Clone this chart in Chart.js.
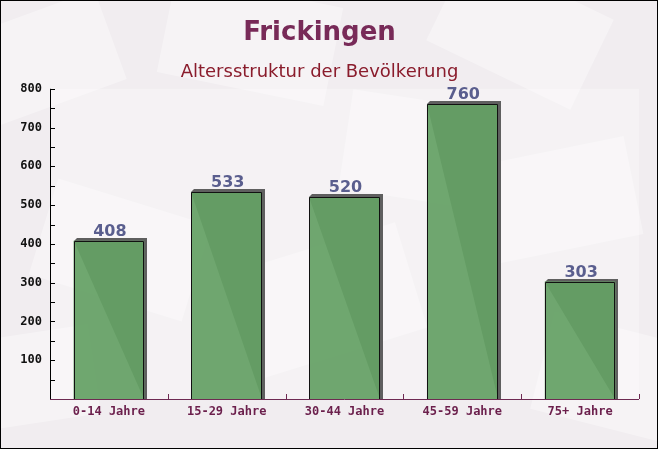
<!DOCTYPE html>
<html>
<head>
<meta charset="utf-8">
<script src="https://cdn.jsdelivr.net/npm/chart.js@4.4.0/dist/chart.umd.min.js"></script>
<style>
  html, body { margin: 0; padding: 0; background: #f2eef1; }
  #wrap { width: 658px; height: 449px; position: relative; }
</style>
</head>
<body>
<div id="wrap"><canvas id="chart" width="658" height="449"></canvas></div>
<script>
// data
const categories = ["0-14 Jahre", "15-29 Jahre", "30-44 Jahre", "45-59 Jahre", "75+ Jahre"];
const population = [408, 533, 520, 760, 303];
const yTicks = [100, 200, 300, 400, 500, 600, 700, 800];

const monoFont = '"DejaVu Sans Mono", "Liberation Mono", monospace';
const sansFont = '"DejaVu Sans", Verdana, sans-serif';

// faint envelope shapes in the background
const envelopes = [
  [40, 60, 150, 95, -0.35], [250, 40, 170, 100, 0.2], [520, 30, 160, 100, 0.45],
  [120, 250, 160, 100, 0.3], [330, 300, 170, 110, -0.3], [560, 200, 150, 100, -0.2],
  [620, 380, 160, 100, 0.25], [20, 380, 150, 90, -0.15], [420, 150, 150, 100, 0.15]
];

const backgroundPlugin = {
  id: "bg",
  beforeDraw(chart) {
    const ctx = chart.ctx;
    ctx.save();
    ctx.fillStyle = "#f1edf0";
    ctx.fillRect(0, 0, chart.width, chart.height);
    envelopes.forEach(function (e) {
      ctx.save();
      ctx.translate(e[0], e[1]);
      ctx.rotate(e[4]);
      ctx.fillStyle = "rgba(255,255,255,0.35)";
      ctx.fillRect(-e[2] / 2, -e[3] / 2, e[2], e[3]);
      ctx.restore();
    });
    const a = chart.chartArea;
    ctx.fillStyle = "rgba(255,255,255,0.3)";
    ctx.fillRect(a.left, a.top, a.right - a.left, a.bottom - a.top);
    ctx.restore();
  },
  afterDraw(chart) {
    const ctx = chart.ctx;
    ctx.save();
    ctx.strokeStyle = "#000";
    ctx.lineWidth = 1;
    ctx.strokeRect(0.5, 0.5, chart.width - 1, chart.height - 1);
    ctx.restore();
  }
};

// 3d shadow behind bars, outline + value labels
const barDecor = {
  id: "barDecor",
  beforeDatasetsDraw(chart) {
    const ctx = chart.ctx;
    const d = 3;
    ctx.save();
    ctx.fillStyle = "#5f5f5f";
    chart.getDatasetMeta(0).data.forEach(function (bar) {
      const l = Math.round(bar.x - bar.width / 2), r = Math.round(bar.x + bar.width / 2);
      const t = Math.round(bar.y);
      ctx.beginPath();
      ctx.moveTo(l, t);
      ctx.lineTo(l + d, t - d);
      ctx.lineTo(r + d, t - d);
      ctx.lineTo(r + d, bar.base);
      ctx.lineTo(r, bar.base);
      ctx.closePath();
      ctx.fill();
    });
    ctx.restore();
  },
  afterDatasetsDraw(chart) {
    const ctx = chart.ctx;
    ctx.save();
    ctx.strokeStyle = "#111";
    ctx.lineWidth = 1;
    chart.getDatasetMeta(0).data.forEach(function (bar) {
      const l = Math.round(bar.x - bar.width / 2) + 0.5, r = Math.round(bar.x + bar.width / 2) - 0.5;
      const t = Math.round(bar.y) + 0.5;
      ctx.beginPath();
      ctx.moveTo(l, bar.base);
      ctx.lineTo(l, t);
      ctx.lineTo(r, t);
      ctx.lineTo(r, bar.base);
      ctx.stroke();
    });
    ctx.font = "bold 16px " + sansFont;
    ctx.fillStyle = "#5a5e8e";
    ctx.textAlign = "center";
    ctx.textBaseline = "alphabetic";
    chart.getDatasetMeta(0).data.forEach(function (bar, i) {
      ctx.fillText(String(population[i]), bar.x + 1, bar.y - 5);
    });
    ctx.restore();
  },
  afterDraw(chart) {
    // inward tick marks
    const ctx = chart.ctx;
    const a = chart.chartArea;
    const y = chart.scales.y;
    ctx.save();
    ctx.lineWidth = 1;
    ctx.strokeStyle = "#000";
    for (let v = 50; v <= 800; v += 50) {
      const py = Math.round(y.getPixelForValue(v)) + 0.5;
      ctx.beginPath();
      ctx.moveTo(a.left, py);
      ctx.lineTo(a.left + 5, py);
      ctx.stroke();
    }
    ctx.beginPath();
    ctx.moveTo(a.left + 0.5, a.top);
    ctx.lineTo(a.left + 0.5, a.bottom);
    ctx.stroke();
    ctx.strokeStyle = "#6e2a52";
    const step = (a.right - a.left) / categories.length;
    for (let i = 1; i <= categories.length; i++) {
      const px = Math.round(a.left + step * i) + 0.5;
      ctx.beginPath();
      ctx.moveTo(px, a.bottom);
      ctx.lineTo(px, a.bottom - 5);
      ctx.stroke();
    }
    ctx.beginPath();
    ctx.moveTo(a.left, Math.round(a.bottom) + 0.5);
    ctx.lineTo(a.right, Math.round(a.bottom) + 0.5);
    ctx.stroke();
    ctx.restore();
  }
};

new Chart(document.getElementById("chart"), {
  type: "bar",
  data: {
    labels: categories,
    datasets: [{
      data: population,
      backgroundColor: "rgba(100,160,100,0.93)",
      borderWidth: 0,
      categoryPercentage: 1,
      barPercentage: 0.6
    }]
  },
  options: {
    responsive: false,
    animation: false,
    layout: { padding: { left: 0, right: 19, top: 2, bottom: 0 } },
    plugins: {
      legend: { display: false },
      tooltip: { enabled: false },
      title: {
        display: true,
        text: "Frickingen",
        color: "#782a58",
        font: { family: sansFont, size: 26, weight: "bold" },
        padding: { top: 16, bottom: 12 }
      },
      subtitle: {
        display: true,
        text: "Altersstruktur der Bevölkerung",
        color: "#8a1c2c",
        font: { family: sansFont, size: 18, weight: "normal" },
        padding: { top: 0, bottom: 6 }
      }
    },
    scales: {
      x: {
        grid: { display: false, drawTicks: false },
        border: { display: false },
        ticks: {
          color: "#6b1f4c",
          font: { family: monoFont, size: 12, weight: "bold" },
          padding: 6,
          maxRotation: 0
        },
        afterFit: function (scale) { scale.height = 50; }
      },
      y: {
        min: 0,
        max: 800,
        afterBuildTicks: function (scale) {
          scale.ticks = yTicks.map(function (v) { return { value: v }; });
        },
        grid: { display: false, drawTicks: false },
        border: { display: false },
        ticks: {
          color: "#111",
          font: { family: monoFont, size: 12, weight: "bold" },
          padding: 8
        },
        afterFit: function (scale) { scale.width = 50; }
      }
    }
  },
  plugins: [backgroundPlugin, barDecor]
});
</script>
</body>
</html>
